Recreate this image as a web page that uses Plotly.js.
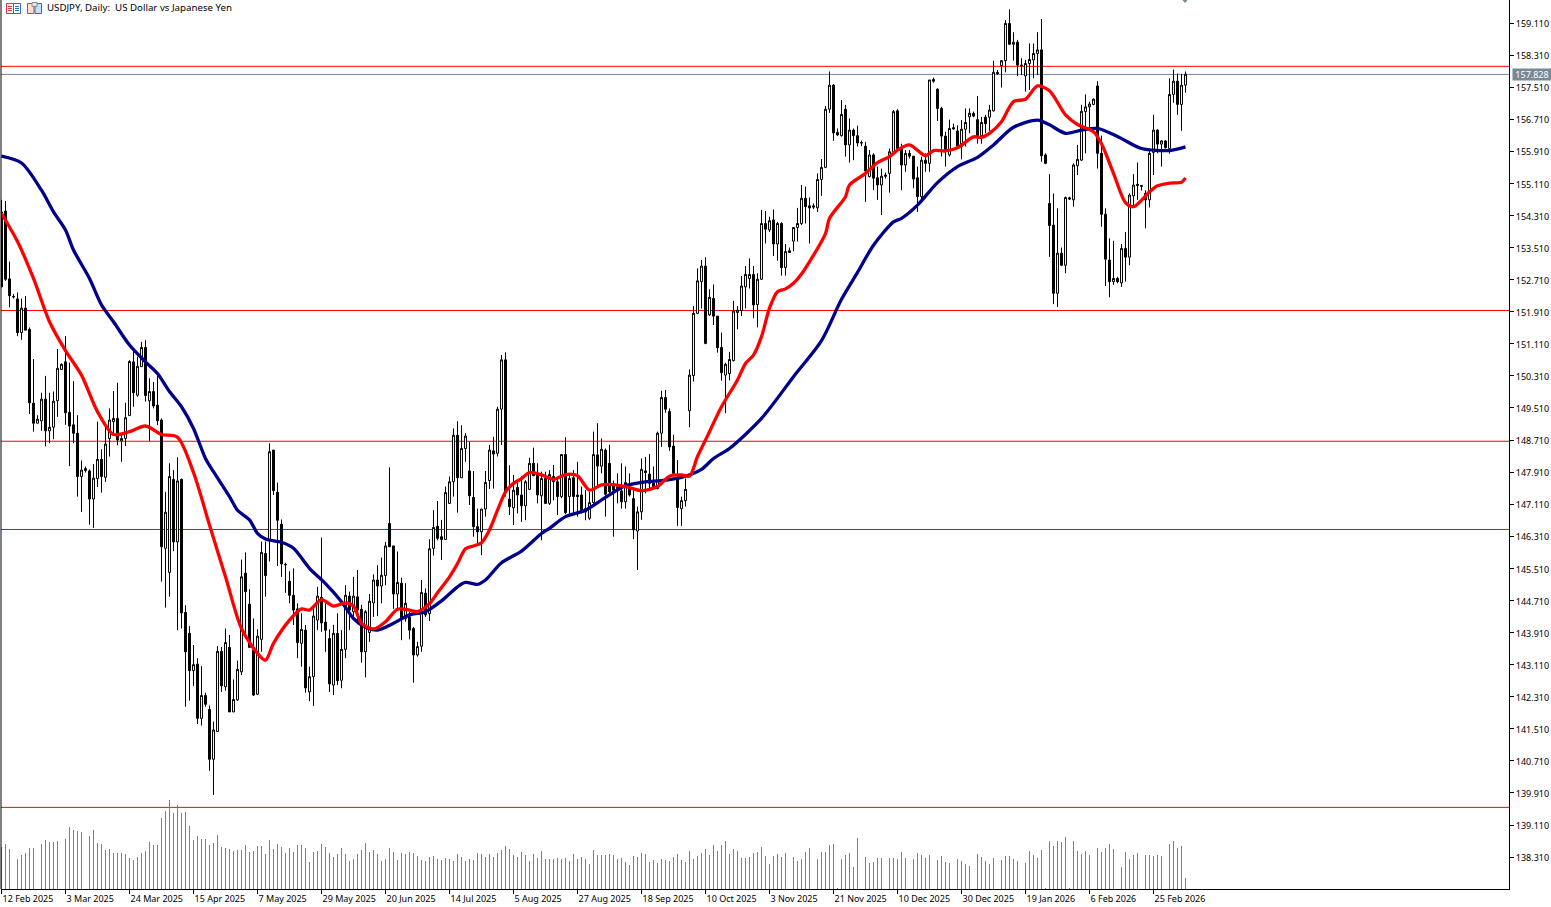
<!DOCTYPE html>
<html>
<head>
<meta charset="utf-8">
<script src="https://cdn.plot.ly/plotly-3.0.1.min.js"></script>
<style>html,body{margin:0;padding:0;background:#fff;overflow:hidden}#c{width:1551px;height:907px}</style>
</head>
<body>
<div id="c"></div>
<script>
var chartTitle = "USDJPY, Daily:  US Dollar vs Japanese Yen";
var dateTickBars = [0,16,32,48,64,80,96,112,128,144,160,176,192,208,224,240,256,272,288];
var dateTickLabels = ["12 Feb 2025","3 Mar 2025","24 Mar 2025","15 Apr 2025","7 May 2025","29 May 2025","20 Jun 2025","14 Jul 2025","5 Aug 2025","27 Aug 2025","18 Sep 2025","10 Oct 2025","3 Nov 2025","21 Nov 2025","10 Dec 2025","30 Dec 2025","19 Jan 2026","6 Feb 2026","25 Feb 2026"];
var priceTicks = [159.11,158.31,157.51,156.71,155.91,155.11,154.31,153.51,152.71,151.91,151.11,150.31,149.51,148.71,147.91,147.11,146.31,145.51,144.71,143.91,143.11,142.31,141.51,140.71,139.91,139.11,138.31];
var levels = [158.03,151.94,148.68,146.48,139.55];
var lastPrice = 157.828;

var opens = [
154.40,154.42,152.73,152.29,152.23,151.39,152.00,151.47,149.63,149.13,
149.19,149.73,148.94,149.03,149.69,150.47,150.66,149.40,149.09,148.88,
147.80,147.95,147.94,147.24,147.75,148.23,147.78,148.75,149.17,149.25,
148.69,148.75,149.32,150.66,149.83,150.54,151.02,149.69,149.92,149.58,
149.21,146.01,145.41,147.73,146.17,147.73,144.41,143.89,142.96,143.12,
141.77,142.34,141.99,140.75,141.44,143.44,142.56,143.54,141.93,142.23,
142.93,145.39,144.62,143.47,142.37,143.74,145.88,146.22,148.46,147.41,
146.61,145.61,145.19,144.84,144.50,143.64,143.97,142.43,142.81,144.22,
144.79,144.17,143.76,142.60,143.89,142.72,143.49,144.82,144.43,144.80,
144.49,143.43,143.91,144.65,145.22,145.07,145.33,146.63,146.07,144.87,
145.14,144.25,144.30,144.01,143.35,143.57,144.89,144.38,146.01,146.56,
146.30,146.23,147.13,147.67,148.83,147.77,148.50,147.94,147.28,146.55,
146.42,146.99,147.70,148.44,148.38,149.48,150.71,147.24,147.02,147.53,
147.34,147.07,147.48,148.13,147.84,147.32,147.75,147.13,147.80,147.67,
147.30,148.35,147.30,147.77,147.34,147.34,147.00,146.76,147.15,148.34,
148.06,148.46,148.13,147.61,147.55,147.44,147.17,147.55,147.25,146.44,
146.92,147.94,147.86,147.63,147.50,148.88,149.77,149.42,148.56,147.75,
147.00,147.20,149.44,150.32,151.87,152.66,153.05,151.83,152.24,151.80,
151.02,150.33,150.37,150.69,151.89,151.94,152.53,152.74,152.84,152.09,
152.72,154.11,153.95,154.20,153.60,154.11,153.01,153.43,153.67,154.01,
154.11,154.74,154.55,154.55,154.50,155.21,155.51,156.96,157.56,156.38,
156.30,156.96,156.07,156.44,156.30,156.13,156.04,155.28,155.82,155.25,
155.07,155.32,155.36,155.90,156.92,155.98,155.57,155.86,155.79,155.25,
154.78,155.69,155.61,157.70,157.46,156.98,156.29,155.82,156.50,156.42,
156.03,156.46,156.77,156.86,156.70,156.30,156.76,156.76,156.92,157.88,
158.05,158.17,159.10,158.58,158.63,158.06,157.79,158.10,158.19,158.35,
158.44,155.82,154.61,154.07,152.37,153.37,153.07,154.75,154.70,155.55,
155.69,156.90,157.02,157.08,157.54,155.86,154.34,153.20,152.66,152.74,
152.63,153.49,153.27,154.80,155.09,155.06,154.86,154.70,155.88,156.44,
156.09,156.17,155.98,157.33,157.66,157.08,157.56];

var highs = [
154.70,154.67,153.16,152.35,152.39,152.24,152.30,151.52,150.73,149.33,
149.89,150.31,149.89,149.92,150.98,150.62,151.30,150.64,150.18,149.33,
148.20,148.05,147.98,148.11,149.17,148.48,149.03,149.50,149.93,150.14,
148.87,149.64,150.70,150.93,150.79,151.16,151.20,150.25,150.16,150.41,
149.25,147.42,148.13,147.96,148.28,147.75,144.59,144.07,143.60,143.27,
143.07,142.41,142.09,141.69,143.57,143.55,144.01,143.85,142.74,143.21,
145.73,145.91,144.99,144.26,143.99,146.18,146.18,148.63,148.46,147.65,
146.73,145.65,145.44,145.51,144.64,144.39,144.10,143.06,144.51,145.05,
146.28,144.64,143.99,144.10,144.39,143.97,145.09,144.93,145.30,145.47,
144.60,144.47,144.87,145.36,145.59,145.78,146.17,148.03,146.07,145.93,
145.28,145.14,144.43,144.05,143.68,145.22,145.01,146.24,146.96,147.19,
146.72,147.55,147.80,149.00,149.18,149.08,148.88,148.67,147.94,147.00,
146.99,147.94,148.59,148.79,149.54,150.83,150.90,148.08,147.84,147.71,
147.81,147.71,148.27,148.52,148.13,147.92,147.92,147.96,148.09,147.80,
148.35,148.78,147.88,147.96,148.17,147.55,147.46,147.42,148.92,149.13,
148.75,148.50,148.59,147.70,147.88,148.13,148.05,147.88,147.46,147.05,
148.25,148.29,148.36,148.05,148.92,149.94,149.96,149.50,148.84,148.21,
147.30,147.75,150.47,152.05,152.99,153.20,153.27,152.47,152.59,151.80,
151.39,150.64,150.91,152.18,152.05,152.80,153.05,153.24,153.05,152.87,
154.45,154.42,154.28,154.46,154.15,154.14,153.60,153.51,154.01,154.50,
155.07,155.03,154.76,154.61,155.36,155.72,157.04,157.90,157.59,156.48,
157.19,157.07,156.73,156.48,156.55,156.18,156.15,155.94,155.86,155.53,
155.48,155.38,155.98,156.94,156.96,156.10,155.94,155.94,155.79,155.53,
155.78,155.86,157.69,157.75,157.48,157.02,156.40,156.70,156.60,156.56,
156.69,156.98,156.98,156.90,157.29,156.77,156.82,157.07,158.17,157.94,
158.19,159.18,159.45,158.88,158.69,158.23,158.19,158.60,158.60,158.88,
159.21,155.86,155.34,154.86,154.49,153.51,154.78,154.78,155.61,156.07,
157.07,157.33,157.15,157.23,157.66,156.30,154.49,153.74,153.68,152.78,
153.60,153.90,154.86,155.34,155.63,155.06,154.94,155.98,156.82,156.46,
156.19,156.19,157.73,157.95,157.85,157.84,157.90];

var lows = [
152.53,152.68,152.02,152.24,151.30,151.21,151.45,149.36,148.92,149.13,
148.94,148.55,148.63,148.73,149.29,150.46,149.09,148.06,148.63,147.30,
146.92,147.90,146.60,146.52,147.54,147.40,147.67,148.30,148.87,148.58,
148.17,148.56,149.32,149.54,149.79,150.54,149.67,148.69,149.50,149.08,
145.18,144.53,144.80,145.94,143.97,144.01,142.06,142.21,142.58,141.63,
141.59,142.06,140.46,139.86,141.44,142.43,142.46,141.93,141.93,142.21,
142.85,143.76,143.54,142.33,142.35,143.43,144.80,145.68,147.34,145.57,
145.30,144.90,144.64,144.10,143.27,143.06,142.41,142.20,142.08,143.97,
143.93,143.43,142.43,142.35,142.60,142.52,143.27,143.97,144.30,144.18,
143.16,142.79,143.68,144.30,144.32,144.64,145.09,146.05,144.50,144.51,
143.72,144.18,143.74,142.66,143.31,143.43,144.30,144.20,145.83,146.21,
145.72,146.23,147.13,147.30,146.90,147.77,148.17,147.09,146.30,146.09,
145.84,146.80,147.49,147.50,148.30,148.59,147.30,146.84,146.59,146.88,
146.67,146.71,147.46,147.82,147.13,146.21,147.13,147.09,147.21,146.84,
147.26,146.86,146.80,146.88,146.80,146.88,146.71,146.72,147.13,147.55,
147.88,146.80,147.38,146.30,147.13,147.00,147.00,147.30,146.24,145.47,
146.72,147.38,147.50,147.50,147.48,148.54,149.39,148.44,147.84,146.57,
146.57,147.05,149.03,150.17,151.85,151.99,151.10,151.81,151.58,150.89,
150.19,149.38,150.20,150.67,151.47,151.80,151.99,152.49,151.75,151.52,
152.70,153.61,153.90,153.30,153.18,152.81,152.81,153.38,153.42,153.66,
154.07,154.11,153.61,154.47,154.40,154.80,155.49,156.87,156.17,156.29,
156.28,155.78,155.63,155.69,156.03,156.04,154.65,155.26,154.94,154.70,
154.32,155.23,154.88,155.88,155.96,154.94,155.40,155.73,154.99,154.40,
154.70,155.40,155.40,157.62,156.67,155.78,155.53,155.78,156.45,155.98,
155.71,156.03,156.36,156.76,156.10,156.10,156.36,156.42,156.90,157.82,
157.50,157.88,158.56,158.17,157.79,157.81,157.40,157.44,157.73,157.81,
155.65,155.59,153.28,152.10,152.03,153.05,152.87,154.70,154.53,155.32,
155.67,155.86,156.52,157.06,155.48,154.03,152.55,152.27,152.58,152.62,
152.53,152.66,153.07,154.57,154.70,154.93,153.99,154.51,155.32,155.86,
155.53,155.98,155.85,157.12,156.82,156.42,157.37];

var closes = [
152.53,152.72,152.31,152.28,151.39,152.00,151.45,149.64,149.13,149.23,
149.73,148.94,149.03,149.68,150.50,150.60,149.39,149.06,148.88,147.80,
147.96,148.00,147.24,147.76,148.23,147.80,148.61,149.21,149.25,148.71,
148.75,149.27,150.67,149.89,150.55,151.02,149.82,149.92,149.56,149.19,
146.05,146.91,147.80,146.17,147.69,144.40,143.43,142.96,143.11,141.77,
142.34,142.12,140.75,141.48,143.44,142.58,143.66,141.93,142.24,142.99,
145.30,144.93,143.54,142.35,143.82,145.91,145.33,148.42,147.45,146.71,
145.62,145.60,144.84,144.47,143.66,143.99,142.53,142.81,144.32,144.82,
144.15,143.97,142.63,143.89,142.71,143.49,144.84,144.47,144.82,144.47,
143.43,144.43,144.69,145.22,145.07,145.34,146.07,146.05,144.87,145.16,
144.25,144.64,143.97,143.35,143.56,144.91,144.35,146.00,146.53,146.26,
146.23,147.40,147.67,148.83,147.77,148.50,148.81,147.32,146.55,146.42,
146.99,147.65,148.46,148.36,149.48,150.71,147.42,147.05,147.46,147.34,
147.07,147.67,148.13,147.82,147.34,147.75,147.13,147.85,147.67,147.30,
148.35,146.90,147.75,147.30,147.30,146.92,146.92,147.15,148.35,148.06,
148.48,147.36,147.42,147.46,147.50,147.17,147.65,147.34,146.47,146.92,
147.98,147.90,147.63,147.55,148.88,149.77,149.48,148.54,147.88,147.03,
147.20,147.48,150.33,151.87,152.68,153.05,151.12,152.27,151.80,151.01,
150.39,150.60,150.72,151.93,151.95,152.55,152.84,152.84,152.08,152.72,
154.11,153.97,154.18,153.60,154.11,153.01,153.41,153.39,154.01,154.11,
154.74,154.53,154.50,154.52,155.21,155.51,156.96,157.56,156.37,156.32,
156.83,156.07,156.44,156.30,156.12,156.12,155.42,155.82,155.24,155.07,
155.29,155.29,155.90,156.90,155.98,155.57,155.86,155.79,155.22,154.78,
155.69,155.61,157.69,157.66,156.98,156.29,155.94,156.48,156.47,156.04,
156.46,156.63,156.86,156.79,156.30,156.63,156.60,156.94,157.88,157.85,
158.17,159.10,158.58,158.63,158.06,158.05,158.10,158.20,158.35,158.44,
155.80,155.61,154.06,152.37,153.37,153.07,154.76,154.72,155.57,155.71,
156.91,157.02,157.09,157.21,155.86,154.34,153.22,152.66,152.74,152.66,
153.49,153.27,154.82,155.07,155.06,155.04,154.70,155.86,156.44,156.09,
156.17,156.00,157.33,157.66,157.08,157.56,157.83];

var volumes = [
42,45,40,0,30,34,36,41,41,0,
45,49,47,47,48,0,50,62,59,58,
57,0,53,59,46,45,39,40,36,36,
36,35,31,29,32,36,38,47,44,44,
71,78,89,76,84,76,77,63,49,53,
50,50,44,46,54,42,41,40,38,39,
39,44,37,38,43,43,35,49,40,45,
42,36,41,37,44,44,41,27,37,38,
45,42,36,32,35,41,35,28,30,35,
39,46,37,39,35,28,30,41,37,29,
36,35,37,36,33,29,28,32,33,30,
29,31,30,28,35,32,28,30,29,36,
35,32,35,32,36,39,43,40,34,32,
37,34,28,35,31,38,30,30,30,31,
30,31,28,35,30,32,30,25,39,34,
34,34,35,34,30,31,27,24,33,32,
36,35,27,29,26,30,29,28,32,35,
29,27,38,30,33,36,40,34,44,38,
44,48,35,40,38,31,31,32,36,37,
42,33,25,33,35,32,36,0,32,28,
30,37,41,0,30,37,37,44,45,1,
30,34,36,22,51,0,32,26,27,31,
31,0,31,31,30,37,31,0,30,36,
34,31,34,0,29,33,27,26,0,30,
28,25,23,0,35,32,28,25,31,0,
29,33,33,30,28,0,26,38,34,31,
39,1,48,43,48,47,52,1,48,38,
35,38,34,0,41,37,41,45,40,0,
22,37,30,34,36,0,34,34,33,34,
33,0,45,48,41,43,11];

var fastMaBars = [0,4,8,12,16,20,24,28,32,36,40,44,48,52,56,60,64,66,68,72,75,77,80,83,86,88,90,93,96,99,102,104,107,109,112,114,116,118,120,122,124,126,128,130,132,135,138,141,144,147,150,153,156,160,164,167,170,172,174,176,180,184,186,188,190,192,194,196,198,200,206,207,211,212,216,219,222,224,227,231,233,236,239,243,245,247,250,253,256,259,262,266,269,273,275,278,281,283,287,289,292,295,296];
var fastMa = [154.36,153.66,152.74,151.66,150.94,150.33,149.42,148.85,148.92,149.06,148.85,148.78,147.90,146.59,145.30,144.01,143.39,143.22,143.64,144.22,144.50,144.47,144.73,144.57,144.65,144.57,144.14,144.00,144.18,144.49,144.47,144.43,144.63,144.90,145.30,145.63,146.00,146.07,146.15,146.47,146.96,147.42,147.63,147.75,147.90,147.84,147.73,147.85,147.82,147.46,147.59,147.60,147.55,147.45,147.55,147.81,147.84,147.81,148.30,148.71,149.54,150.21,150.62,150.83,151.29,152.00,152.41,152.48,152.62,152.85,153.86,154.24,154.78,155.07,155.36,155.63,155.78,155.94,156.07,155.80,155.93,155.92,156.00,156.27,156.26,156.36,156.65,157.15,157.21,157.54,157.42,156.82,156.58,156.40,156.10,155.36,154.63,154.53,154.90,155.05,155.12,155.14,155.25];

var slowMaBars = [0,5,10,13,16,18,22,25,28,32,36,39,42,45,48,51,53,57,59,62,64,66,70,73,77,81,85,88,91,94,98,102,106,110,114,116,119,121,125,130,135,137,141,146,151,156,161,165,170,175,178,182,190,198,205,210,214,218,223,225,229,234,239,244,248,253,259,262,266,270,274,279,285,292,296];
var slowMa = [155.79,155.62,154.94,154.40,153.95,153.45,152.74,152.08,151.66,151.08,150.66,150.37,149.92,149.54,149.00,148.25,147.92,147.30,146.96,146.72,146.38,146.24,146.16,146.01,145.51,145.13,144.68,144.26,144.04,143.97,144.14,144.35,144.43,144.70,145.05,145.16,145.11,145.22,145.65,145.94,146.38,146.51,146.80,146.96,147.28,147.57,147.67,147.70,147.78,147.98,148.25,148.50,149.25,150.29,151.19,152.22,152.89,153.57,154.15,154.24,154.57,155.13,155.53,155.76,156.07,156.51,156.69,156.57,156.36,156.44,156.48,156.28,155.98,155.93,156.02];

var W = 1551, H = 907, L = 1, R = 1509, B = 889;
function px(x){ return (x - L) / (R - L); }
function py(y){ return 1 - y / B; }
function box(x0,y0,x1,y1,line,fill){
  return {type:'rect',xref:'paper',yref:'paper',x0:px(x0),x1:px(x1),y0:py(y0),y1:py(y1),
          line:{color:line,width:1},fillcolor:fill||'rgba(0,0,0,0)',layer:'above'};
}
function dash(x0,y,x1,line){
  return {type:'line',xref:'paper',yref:'paper',x0:px(x0),x1:px(x1),y0:py(y),y1:py(y),line:{color:line,width:1},layer:'above'};
}
var shapes = levels.map(function(v){
  return {type:'line',xref:'paper',yref:'y',x0:0,x1:1,y0:v,y1:v,line:{color:'#ff0000',width:1},layer:'below'};
});
shapes.push({type:'line',xref:'paper',yref:'y',x0:0,x1:1,y0:lastPrice,y1:lastPrice,line:{color:'#778899',width:1},layer:'below'});
shapes.push({type:'line',xref:'paper',yref:'paper',x0:0,x1:0,y0:0,y1:1,line:{color:'#000',width:1},layer:'above'});
shapes.push(box(6.5,3.5,13.5,13.5,'#d83a3a','#fff'),box(13.5,3.5,20.5,13.5,'#2a6fb8','#fff'),
  dash(8,6.5,12,'#d83a3a'),dash(8,8.5,12,'#d83a3a'),dash(8,10.5,12,'#d83a3a'),
  dash(15,6.5,19,'#2a6fb8'),dash(15,8.5,19,'#2a6fb8'),dash(15,10.5,19,'#2a6fb8'),
  box(27.5,3.5,34,13.5,'#d83a3a','#fde0d8'),box(35,3.5,41.5,13.5,'#2a6fb8','#c6e0f4'),box(32,2.5,37,6.5,'#8a8a8a','#e8e8e8'));
shapes.push({type:'path',xref:'paper',yref:'paper',
  path:'M'+px(1181.5)+','+py(-1)+' L'+px(1188.5)+','+py(-1)+' L'+px(1185)+','+py(3)+' Z',
  fillcolor:'#778899',line:{width:0},layer:'above'});

var fam = '"Noto Sans", sans-serif';
var yFont = {family:fam, size:9, color:'#000'};
var xFont = {family:fam, size:9, color:'#000'};
var traces = [
  {type:'bar',x:volumes.map(function(v,i){return i;}),y:volumes,yaxis:'y2',width:0.25,
   marker:{color:'#32b432',line:{width:0}},hoverinfo:'skip',showlegend:false},
  {type:'candlestick',x:opens.map(function(v,i){return i;}),open:opens,high:highs,low:lows,close:closes,
   increasing:{line:{color:'#000',width:1},fillcolor:'#fff'},
   decreasing:{line:{color:'#000',width:1},fillcolor:'#000'},
   whiskerwidth:0,hoverinfo:'skip',showlegend:false},
  {type:'scatter',mode:'lines',x:slowMaBars,y:slowMa,line:{color:'#00008b',width:3.3,shape:'spline',smoothing:0.8},hoverinfo:'skip',showlegend:false},
  {type:'scatter',mode:'lines',x:fastMaBars,y:fastMa,line:{color:'#ff0000',width:3.3,shape:'spline',smoothing:0.8},hoverinfo:'skip',showlegend:false}
];
var layout = {
  width:W,height:H,
  margin:{l:L,r:W-R,t:0,b:H-B,pad:0},
  paper_bgcolor:'#fff',plot_bgcolor:'#fff',
  font:yFont,showlegend:false,dragmode:false,hovermode:false,
  title:{text:chartTitle,font:{family:fam,size:9.7,color:'#000'},xref:'paper',yref:'container',x:46/1508,xanchor:'left',y:1-8/H,yanchor:'middle'},
  bargap:0,
  xaxis:{type:'linear',range:[(L-1.5)/4,(R-1.5)/4],tickmode:'array',tickvals:dateTickBars,ticktext:dateTickLabels,
    ticklabelposition:'outside right',ticklabelshift:-1.5,ticklabelstandoff:1,ticks:'outside',ticklen:4,tickcolor:'#000',tickwidth:1,showline:true,linecolor:'#000',linewidth:1,
    showgrid:false,zeroline:false,rangeslider:{visible:false},tickfont:xFont,fixedrange:true,automargin:false},
  yaxis:{type:'linear',side:'right',range:[159.684-B/40.1,159.684],tickmode:'array',tickvals:priceTicks,tickformat:'.3f',ticklabelshift:1,
    ticks:'outside',ticklen:4,tickcolor:'#000',tickwidth:1,showline:true,linecolor:'#000',linewidth:1,
    showgrid:false,zeroline:false,tickfont:yFont,fixedrange:true,automargin:false},
  yaxis2:{overlaying:'y',range:[0,B],visible:false,fixedrange:true},
  shapes:shapes,
  annotations:[{xref:'paper',yref:'y',x:(1531.5-L)/(R-L),y:lastPrice,text:lastPrice.toFixed(3),showarrow:false,
    font:{family:fam,size:9,color:'#fff'},bgcolor:'#778899',width:38,height:11,borderpad:0,xanchor:'center',yanchor:'middle',align:'center'}]
};
Plotly.newPlot('c',traces,layout,{displayModeBar:false,staticPlot:true});
</script>
</body>
</html>
